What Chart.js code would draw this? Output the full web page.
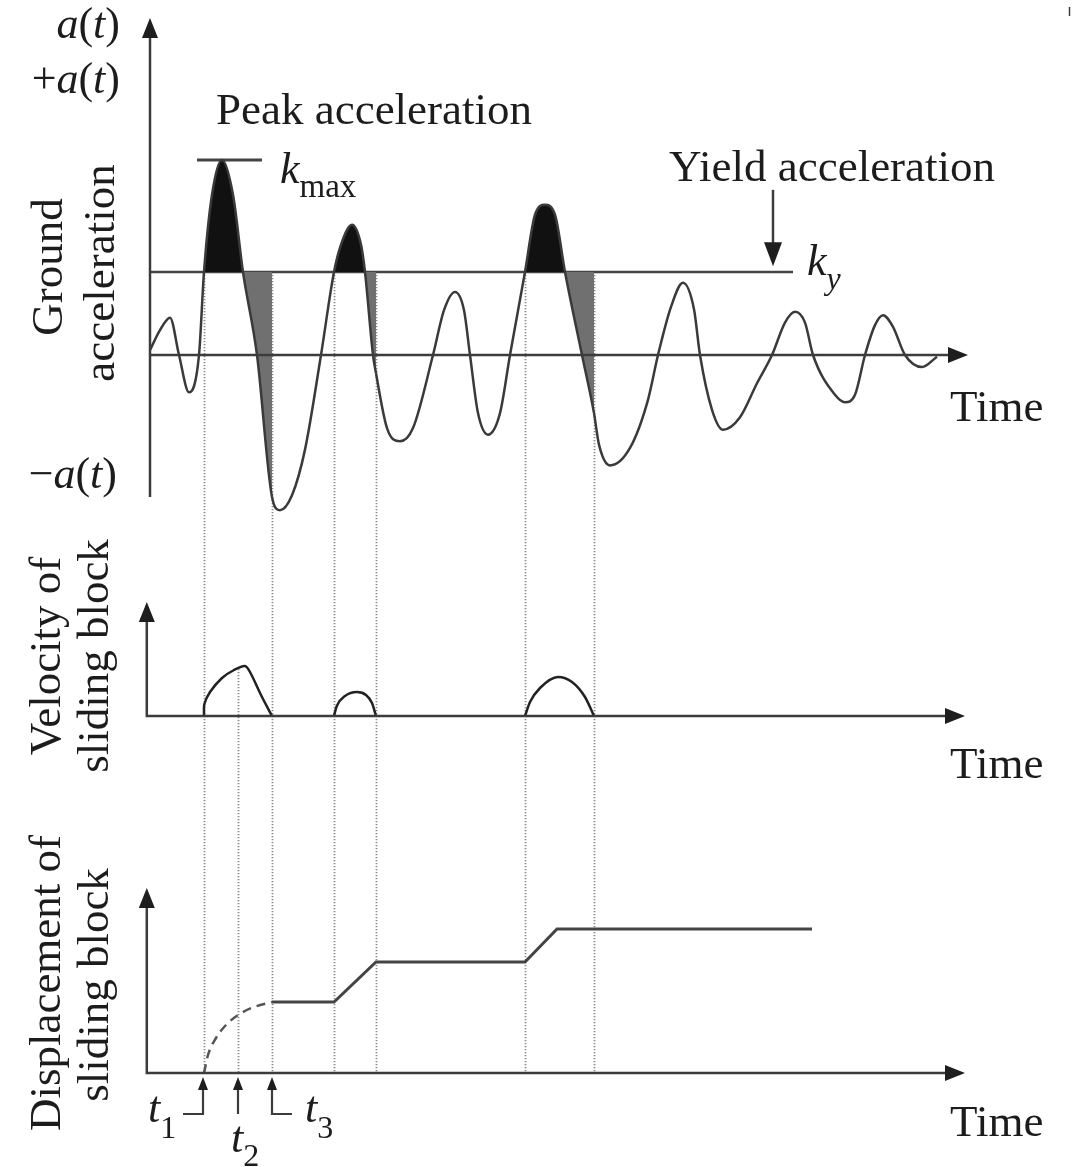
<!DOCTYPE html>
<html>
<head>
<meta charset="utf-8">
<script src="https://cdn.jsdelivr.net/npm/chart.js@4/dist/chart.umd.min.js"></script>
<style>
  html, body { margin: 0; padding: 0; background: #fff; overflow: hidden; }
  #wrap { position: relative; width: 1074px; height: 1167px; }
</style>
</head>
<body>
<div id="wrap"><canvas id="grafico"></canvas></div>
<script>
// tempo em s, aceleração em g
const accelTime = [0, 0.25, 0.5, 0.725, 0.975, 1.225, 1.35, 1.55, 1.8, 2.075, 2.325, 2.675, 3.05, 3.25, 3.55, 3.875, 4.275,
    4.6, 4.775, 5.05, 5.275, 5.375, 5.575, 5.65, 5.925, 6.25, 6.575, 7.075, 7.35, 7.625, 7.85, 8.0, 8.2, 8.45, 8.75, 9.0,
    9.375, 9.625, 9.875, 10.125, 10.375, 10.8, 11.1, 11.225, 11.5, 12.0, 12.45, 12.7, 13.025, 13.325, 13.6, 13.75,
    14.05, 14.325, 14.75, 15.175, 15.55, 15.875, 16.125, 16.375, 16.575, 17.125, 17.375, 17.625, 17.875, 18.125, 18.325,
    18.575, 18.875, 19.3, 19.675];
const accelValue = [0.006, 0.030, 0.045, 0, -0.045, 0, 0.1, 0.193, 0.235, 0.193, 0.1, 0, -0.171, -0.187, -0.169, -0.114, 0,
    0.1, 0.133, 0.157, 0.133, 0.1, 0, -0.022, -0.088, -0.104, -0.088, 0, 0.054, 0.076, 0.054, 0, -0.070, -0.096, -0.070, 0,
    0.1, 0.169, 0.181, 0.169, 0.1, 0, -0.07, -0.108, -0.133, -0.112, -0.054, 0, 0.058, 0.087, 0.055, 0,
    -0.066, -0.090, -0.075, -0.034, 0, 0.039, 0.052, 0.039, 0, -0.048, -0.057, -0.048, 0, 0.036, 0.048,
    0.034, 0, -0.0145, -0.002];

const KY = 0.1;      // aceleração de escoamento
const KMAX = 0.235;  // pico

// eventos de deslizamento: início (a = ky), a volta abaixo de ky, fim (v = 0)
const slipStart = [1.35, 4.6, 9.375];
const slipKyDown = [2.325, 5.375, 10.375];
const slipEnd = [3.05, 5.65, 11.1];
const t2 = 2.2;

// velocidade do bloco
const vel1Time = [1.35, 1.36, 1.5, 1.8, 2.1, 2.375, 2.5, 2.8, 3.05];
const vel1Value = [0, 0.12, 0.24, 0.38, 0.46, 0.50, 0.44, 0.19, 0];
const vel2Time = [4.6, 4.67, 4.875, 5.175, 5.4, 5.55, 5.65];
const vel2Value = [0, 0.10, 0.20, 0.24, 0.21, 0.13, 0];
const vel3Time = [9.375, 9.5, 9.75, 10.2, 10.55, 10.875, 11.1];
const vel3Value = [0, 0.14, 0.28, 0.39, 0.34, 0.19, 0];

// deslocamento do bloco
const dispDashTime = [1.35, 1.45, 1.65, 1.9, 2.2, 2.6, 3.05];
const dispDashValue = [0, 0.18, 0.35, 0.48, 0.58, 0.66, 0.71];
const dispTime = [3.05, 4.6, 5.65, 9.375, 10.175, 16.55];
const dispValue = [0.71, 0.71, 1.11, 1.11, 1.44, 1.44];

// layout (pixels)
const W = 1074, H = 1167;
const ORIGIN_X = 150, PX_S = 40;
const A_ZERO = 355, PX_G = 830;
const V_ZERO = 716, PX_V = 100;
const D_ZERO = 1073, PX_D = 100;

const SERIF = '"Liberation Serif", "DejaVu Serif", serif';
const INK = '#1c1c1c';
const LINE = '#3a3a3a';

const pts = (ts, vs) => ts.map((t, i) => ({x: t, y: vs[i]}));

const corDoSegmento = (ctx) => {
    const a = ctx.p0.parsed.x, b = ctx.p1.parsed.x, e = 1e-6;
    for (let i = 0; i < slipStart.length; i++) {
        if (a >= slipStart[i] - e && b <= slipKyDown[i] + e) return '#111111';
        if (a >= slipKyDown[i] - e && b <= slipEnd[i] + e) return '#707070';
    }
    return 'rgba(0,0,0,0)';
};

function seta(ctx, x, y, dir, len = 20, half = 8) {
    ctx.beginPath();
    if (dir === 'up') { ctx.moveTo(x, y); ctx.lineTo(x - half, y + len); ctx.lineTo(x + half, y + len); }
    if (dir === 'down') { ctx.moveTo(x, y); ctx.lineTo(x - half, y - len); ctx.lineTo(x + half, y - len); }
    if (dir === 'right') { ctx.moveTo(x, y); ctx.lineTo(x - len, y - half); ctx.lineTo(x - len, y + half); }
    ctx.closePath();
    ctx.fill();
}

// texto com partes em itálico / subscrito
function texto(ctx, partes, x, y, align = 'left') {
    let total = 0;
    partes.forEach(p => {
        ctx.font = `${p.i ? 'italic ' : ''}${p.s || 44}px ${SERIF}`;
        p.w = ctx.measureText(p.t).width;
        total += p.w;
    });
    let cx = align === 'right' ? x - total : x;
    partes.forEach(p => {
        ctx.font = `${p.i ? 'italic ' : ''}${p.s || 44}px ${SERIF}`;
        ctx.fillText(p.t, cx, y + (p.dy || 0));
        cx += p.w;
    });
}

function rotulo(ctx, txt, x, y) {
    ctx.save();
    ctx.translate(x, y);
    ctx.rotate(-Math.PI / 2);
    ctx.textAlign = 'center';
    ctx.font = `45px ${SERIF}`;
    ctx.fillText(txt, 0, 0);
    ctx.restore();
}

const diagrama = {
    id: 'diagrama',
    beforeDatasetsDraw(chart) {
        const {ctx, scales: {x, yA, yV, yD}} = chart;
        ctx.save();
        ctx.strokeStyle = '#8a8a8a';
        ctx.lineWidth = 1.8;
        ctx.setLineDash([1.2, 1.8]);
        const baseY = yD.getPixelForValue(0);
        [...slipStart, ...slipEnd].forEach(t => {
            const px = Math.round(x.getPixelForValue(t)) + 0.5;
            ctx.beginPath();
            ctx.moveTo(px, yA.getPixelForValue(KY));
            ctx.lineTo(px, baseY);
            ctx.stroke();
        });
        const p2 = Math.round(x.getPixelForValue(t2)) + 0.5;
        ctx.beginPath();
        ctx.moveTo(p2, yV.getPixelForValue(0.47));
        ctx.lineTo(p2, baseY);
        ctx.stroke();
        ctx.restore();
    },
    afterDatasetsDraw(chart) {
        const {ctx, scales: {x, yA, yV, yD}} = chart;
        ctx.save();
        ctx.strokeStyle = '#3c3c3c';
        ctx.fillStyle = '#1e1e1e';
        ctx.lineWidth = 2.5;

        // eixos da aceleração
        const x0 = x.getPixelForValue(0);
        const xEnd = x.getPixelForValue(20.45);
        const ay0 = yA.getPixelForValue(0);
        ctx.beginPath();
        ctx.moveTo(x0, yA.getPixelForValue(-0.171));
        ctx.lineTo(x0, yA.getPixelForValue(0.406) + 18);
        ctx.moveTo(x0, ay0);
        ctx.lineTo(xEnd - 18, ay0);
        ctx.stroke();
        seta(ctx, x0, yA.getPixelForValue(0.406), 'up');
        seta(ctx, xEnd, ay0, 'right');

        // eixos da velocidade e do deslocamento
        const xl = x.getPixelForValue(-0.08);
        const xr = x.getPixelForValue(20.375);
        [[yV, 1.14], [yD, 1.85]].forEach(([ys, topo]) => {
            const b = ys.getPixelForValue(0);
            const t = ys.getPixelForValue(topo);
            ctx.beginPath();
            ctx.moveTo(xl, t + 18);
            ctx.lineTo(xl, b);
            ctx.lineTo(xr - 18, b);
            ctx.stroke();
            seta(ctx, xl, t, 'up');
            seta(ctx, xr, b, 'right');
        });

        // seta da aceleração de escoamento
        const xy = x.getPixelForValue(15.575);
        ctx.beginPath();
        ctx.moveTo(xy, yA.getPixelForValue(0.199));
        ctx.lineTo(xy, yA.getPixelForValue(0.107) - 20);
        ctx.stroke();
        seta(ctx, xy, yA.getPixelForValue(0.107), 'down', 24, 9);

        // marcadores t1, t2, t3
        const yb = yD.getPixelForValue(0) + 4;
        const yc = 1114;
        ctx.lineWidth = 2.2;
        const mt1 = x.getPixelForValue(slipStart[0]) - 1;
        const mt2 = x.getPixelForValue(t2);
        const mt3 = x.getPixelForValue(slipEnd[0]);
        ctx.beginPath();
        ctx.moveTo(mt1, yb + 10); ctx.lineTo(mt1, yc); ctx.lineTo(mt1 - 20, yc);
        ctx.moveTo(mt2, yb + 10); ctx.lineTo(mt2, yc);
        ctx.moveTo(mt3, yb + 10); ctx.lineTo(mt3, yc); ctx.lineTo(mt3 + 20, yc);
        ctx.stroke();
        [mt1, mt2, mt3].forEach(m => seta(ctx, m, yb, 'up', 13, 5));

        // pequeno traço no canto
        ctx.lineWidth = 1.5;
        ctx.beginPath();
        ctx.moveTo(1069.5, 7); ctx.lineTo(1069.5, 16);
        ctx.stroke();

        // textos
        ctx.fillStyle = INK;
        ctx.textBaseline = 'alphabetic';
        texto(ctx, [{t: 'a', i: true}, {t: '('}, {t: 't', i: true}, {t: ')'}], 120, 38, 'right');
        texto(ctx, [{t: '+'}, {t: 'a', i: true}, {t: '('}, {t: 't', i: true}, {t: ')'}], 120, 93, 'right');
        texto(ctx, [{t: '\u2212'}, {t: 'a', i: true}, {t: '('}, {t: 't', i: true}, {t: ')'}], 117, 488, 'right');
        texto(ctx, [{t: 'Peak acceleration', s: 45}], 216, 124);
        texto(ctx, [{t: 'Yield acceleration', s: 45}], 669, 181);
        texto(ctx, [{t: 'k', i: true}, {t: 'max', s: 33, dy: 14}], 280, 183);
        texto(ctx, [{t: 'k', i: true}, {t: 'y', i: true, s: 32, dy: 14}], 807, 275);
        texto(ctx, [{t: 'Time', s: 45}], 950, 421);
        texto(ctx, [{t: 'Time', s: 45}], 950, 778);
        texto(ctx, [{t: 'Time', s: 45}], 950, 1136);
        texto(ctx, [{t: 't', i: true}, {t: '1', s: 32, dy: 16}], 148, 1122);
        texto(ctx, [{t: 't', i: true}, {t: '2', s: 32, dy: 14}], 231, 1152);
        texto(ctx, [{t: 't', i: true}, {t: '3', s: 32, dy: 16}], 305, 1122);

        rotulo(ctx, 'Ground', 62, 267);
        rotulo(ctx, 'acceleration', 114, 273);
        rotulo(ctx, 'Velocity of', 60, 656);
        rotulo(ctx, 'sliding block', 108, 656);
        rotulo(ctx, 'Displacement of', 60, 983);
        rotulo(ctx, 'sliding block', 108, 985);
        ctx.restore();
    }
};

const linha = (data, yAxisID, extra = {}) => Object.assign({
    data, yAxisID,
    borderColor: LINE,
    borderWidth: 2.5,
    pointRadius: 0,
    fill: false,
    cubicInterpolationMode: 'monotone'
}, extra);

new Chart(document.getElementById('grafico'), {
    type: 'line',
    data: {
        datasets: [
            linha(pts(accelTime, accelValue), 'yA', {
                backgroundColor: 'rgba(0,0,0,0)',
                fill: {value: KY},
                segment: {backgroundColor: corDoSegmento}
            }),
            linha(pts([0, 16.075], [KY, KY]), 'yA', {borderColor: '#444', borderWidth: 2.5, cubicInterpolationMode: 'default', tension: 0}),
            linha(pts([1.175, 2.8], [KMAX, KMAX]), 'yA', {borderColor: '#444', borderWidth: 3, cubicInterpolationMode: 'default', tension: 0}),
            linha(pts(vel1Time, vel1Value), 'yV', {borderColor: '#222', cubicInterpolationMode: 'default', tension: 0.3}),
            linha(pts(vel2Time, vel2Value), 'yV', {borderColor: '#222'}),
            linha(pts(vel3Time, vel3Value), 'yV', {borderColor: '#222'}),
            linha(pts(dispDashTime, dispDashValue), 'yD', {borderColor: '#555', borderDash: [9, 6]}),
            linha(pts(dispTime, dispValue), 'yD', {borderColor: '#444', borderWidth: 3, cubicInterpolationMode: 'default', tension: 0})
        ]
    },
    options: {
        responsive: true,
        maintainAspectRatio: false,
        animation: false,
        layout: {padding: 0},
        plugins: {legend: {display: false}, tooltip: {enabled: false}},
        scales: {
            x: {type: 'linear', display: false, bounds: 'data', min: -ORIGIN_X / PX_S, max: (W - ORIGIN_X) / PX_S},
            yA: {type: 'linear', display: false, bounds: 'data', min: (A_ZERO - H) / PX_G, max: A_ZERO / PX_G},
            yV: {type: 'linear', display: false, bounds: 'data', min: (V_ZERO - H) / PX_V, max: V_ZERO / PX_V},
            yD: {type: 'linear', display: false, bounds: 'data', min: (D_ZERO - H) / PX_D, max: D_ZERO / PX_D}
        }
    },
    plugins: [diagrama]
});
</script>
</body>
</html>
